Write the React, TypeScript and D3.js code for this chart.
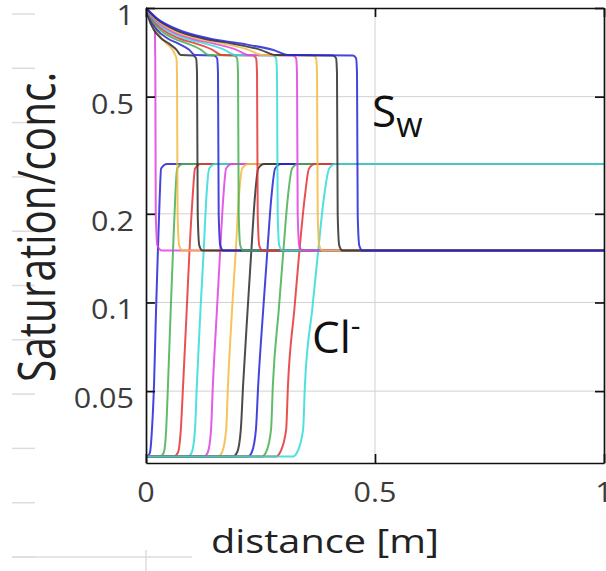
import React, { useEffect, useRef } from 'react';
import * as d3 from 'd3';

// line colour cycle (blue, green, red, cyan, magenta, yellow, black)
const palette = ['#2525d8', '#45b04f', '#e53232', '#30dada', '#e040e0', '#f4b940', '#2b2b2b'];

// Cl- concentration levels, shared by every time step
const clLevels = [0.03, 0.03, 0.031, 0.037, 0.0524, 0.095, 0.15, 0.23, 0.285, 0.295, 0.295];
// distance [m] at which each Cl- curve reaches the levels above
const clDistances = [
    [0, 0.003, 0.0087, 0.013, 0.0175, 0.022, 0.026, 0.030, 0.033, 0.046, 1],
    [0, 0.031, 0.039, 0.044, 0.048, 0.054, 0.059, 0.064, 0.068, 0.081, 1],
    [0, 0.061, 0.070, 0.076, 0.081, 0.089, 0.095, 0.102, 0.107, 0.120, 1],
    [0, 0.092, 0.100, 0.107, 0.111, 0.119, 0.126, 0.132, 0.138, 0.151, 1],
    [0, 0.127, 0.135, 0.142, 0.146, 0.155, 0.162, 0.169, 0.175, 0.188, 1],
    [0, 0.157, 0.166, 0.175, 0.179, 0.188, 0.196, 0.203, 0.210, 0.223, 1],
    [0, 0.190, 0.199, 0.207, 0.212, 0.222, 0.230, 0.238, 0.245, 0.258, 1],
    [0, 0.223, 0.231, 0.240, 0.245, 0.256, 0.265, 0.274, 0.282, 0.295, 1],
    [0, 0.253, 0.262, 0.273, 0.277, 0.290, 0.300, 0.310, 0.319, 0.332, 1],
    [0, 0.284, 0.293, 0.306, 0.310, 0.324, 0.335, 0.347, 0.356, 0.369, 1],
    [0, 0.321, 0.330, 0.343, 0.347, 0.363, 0.376, 0.389, 0.400, 0.413, 1],
];

// water saturation levels, shared by every time step
const swLevels = [1, 0.925, 0.845, 0.788, 0.757, 0.721, 0.692, 0.69, 0.675, 0.6, 0.2, 0.156, 0.15, 0.15];
// distance [m] at which each S_w curve reaches the levels above
const swDistances = [
    [0, 0.006, 0.0195, 0.0197, 0.0198, 0.0199, 0.0200, 0.0201, 0.0202, 0.0204, 0.0213, 0.025, 0.035, 1],
    [0, 0.007, 0.021, 0.034, 0.045, 0.058, 0.064, 0.0645, 0.0665, 0.0677, 0.069, 0.0725, 0.080, 1],
    [0, 0.0056, 0.0167, 0.0334, 0.0501, 0.0668, 0.0758, 0.1024, 0.1094, 0.1114, 0.1129, 0.1164, 0.1234, 1],
    [0, 0.0079, 0.0236, 0.0472, 0.0707, 0.0943, 0.1069, 0.1482, 0.1552, 0.1572, 0.1587, 0.1622, 0.1692, 1],
    [0, 0.0100, 0.0301, 0.0603, 0.0904, 0.1205, 0.1366, 0.1919, 0.1989, 0.2009, 0.2024, 0.2059, 0.2129, 1],
    [0, 0.0121, 0.0364, 0.0727, 0.1091, 0.1454, 0.1648, 0.2334, 0.2404, 0.2424, 0.2439, 0.2474, 0.2544, 1],
    [0, 0.0143, 0.0429, 0.0858, 0.1287, 0.1716, 0.1945, 0.2770, 0.2840, 0.2860, 0.2875, 0.2910, 0.2980, 1],
    [0, 0.0165, 0.0495, 0.0989, 0.1484, 0.1978, 0.2242, 0.3207, 0.3277, 0.3297, 0.3312, 0.3347, 0.3417, 1],
    [0, 0.0187, 0.0560, 0.1120, 0.1680, 0.2240, 0.2539, 0.3644, 0.3714, 0.3734, 0.3749, 0.3784, 0.3854, 1],
    [0, 0.0209, 0.0626, 0.1251, 0.1877, 0.2502, 0.2836, 0.4080, 0.4150, 0.4170, 0.4185, 0.4220, 0.4290, 1],
    [0, 0.0230, 0.0691, 0.1382, 0.2073, 0.2764, 0.3133, 0.4517, 0.4587, 0.4607, 0.4622, 0.4657, 0.4727, 1],
];

const yTicks = [0.05, 0.1, 0.2, 0.5, 1];
const yTickLabels = ['0.05', '0.1', '0.2', '0.5', '1'];
const xTicks = [0, 0.5, 1];
const xTickLabels = ['0', '0.5', '1'];

const W = 606;
const H = 571;
const margin = { top: 8, right: 2, bottom: 108, left: 146 };
const FONT = "'Open Sans', 'DejaVu Sans', sans-serif";

const App = () => {
    const ref = useRef<SVGSVGElement>(null);

    useEffect(() => {
        const svg = d3.select(ref.current);
        svg.selectAll('*').remove();

        const x = d3.scaleLinear().domain([0, 1]).range([margin.left, W - margin.right]);
        const y = d3.scaleLog().domain([0.0285, 1]).range([H - margin.bottom, margin.top]);

        // faint fragments of the neighbouring panel on the far left
        const ghost = svg.append('g').attr('stroke', '#dcdcdc').attr('stroke-width', 1.5);
        ghost.selectAll('line.frag')
            .data(d3.range(11))
            .join('line')
            .attr('class', 'frag')
            .attr('x1', 12).attr('x2', 35)
            .attr('y1', (d) => 14 + d * 54.3)
            .attr('y2', (d) => 14 + d * 54.3);
        ghost.append('line').attr('x1', 12).attr('x2', 192).attr('y1', 557).attr('y2', 557);
        ghost.append('line').attr('x1', x(0)).attr('x2', x(0)).attr('y1', 550).attr('y2', H);

        // grid
        const grid = svg.append('g').attr('stroke', '#d2d2d2').attr('stroke-width', 1);
        grid.selectAll('line.h')
            .data(yTicks.filter((d) => d < 1))
            .join('line')
            .attr('class', 'h')
            .attr('x1', x(0)).attr('x2', x(1))
            .attr('y1', (d) => y(d)).attr('y2', (d) => y(d));
        grid.selectAll('line.v')
            .data(xTicks.filter((d) => d > 0 && d < 1))
            .join('line')
            .attr('class', 'v')
            .attr('y1', y(1)).attr('y2', y(0.0285))
            .attr('x1', (d) => x(d)).attr('x2', (d) => x(d));

        svg.append('defs').append('clipPath').attr('id', 'plot-clip')
            .append('rect')
            .attr('x', x(0)).attr('y', margin.top - 3)
            .attr('width', x(1) - x(0)).attr('height', H - margin.bottom - margin.top + 3);

        const line = d3.line<[number, number]>()
            .x((d) => x(d[0]))
            .y((d) => y(d[1]))
            .curve(d3.curveMonotoneX);

        const curves = svg.append('g').attr('clip-path', 'url(#plot-clip)')
            .attr('fill', 'none').attr('stroke-width', 2).attr('stroke-opacity', 0.85)
            .attr('stroke-linejoin', 'round');

        // Cl- first, then S_w (colour cycle continues)
        const clData = clDistances.map((ds) => ds.map((d, i) => [d, clLevels[i]] as [number, number]));
        const swData = swDistances.map((ds) => ds.map((d, i) => [d, swLevels[i]] as [number, number]));

        curves.selectAll('path.cl')
            .data(clData)
            .join('path')
            .attr('class', 'cl')
            .attr('stroke', (d, i) => palette[i % 7])
            .attr('d', (d) => line(d));

        curves.selectAll('path.sw')
            .data(swData)
            .join('path')
            .attr('class', 'sw')
            .attr('stroke', (d, i) => palette[(i + clData.length) % 7])
            .attr('d', (d) => line(d));

        // frame with inward ticks on all four sides
        const frame = svg.append('g');
        frame.append('g').attr('transform', `translate(${x(0)},0)`)
            .call(d3.axisLeft(y).tickValues(yTicks).tickSize(-9).tickSizeOuter(0).tickFormat(() => ''));
        frame.append('g').attr('transform', `translate(${x(1)},0)`)
            .call(d3.axisRight(y).tickValues(yTicks).tickSize(-9).tickSizeOuter(0).tickFormat(() => ''));
        frame.append('g').attr('transform', `translate(0,${y(0.0285)})`)
            .call(d3.axisBottom(x).tickValues(xTicks).tickSize(-9).tickSizeOuter(0).tickFormat(() => ''));
        frame.append('g').attr('transform', `translate(0,${y(1)})`)
            .call(d3.axisTop(x).tickValues(xTicks).tickSize(-9).tickSizeOuter(0).tickFormat(() => ''));
        frame.selectAll('path, line').attr('stroke', '#111').attr('stroke-width', 1.7);

        // tick labels
        svg.append('g').selectAll('text')
            .data(yTicks)
            .join('text')
            .attr('transform', (d) => `translate(134,${y(d) + 17}) scale(1.13,1)`)
            .attr('text-anchor', 'end')
            .attr('font-family', FONT)
            .attr('font-size', 27)
            .attr('fill', '#3c3c3c')
            .text((d, i) => yTickLabels[i]);

        svg.append('g').selectAll('text')
            .data(xTicks)
            .join('text')
            .attr('transform', (d) => `translate(${x(d)},502) scale(1.13,1)`)
            .attr('text-anchor', 'middle')
            .attr('font-family', FONT)
            .attr('font-size', 27)
            .attr('fill', '#3c3c3c')
            .text((d, i) => xTickLabels[i]);

        // axis titles
        svg.append('text')
            .attr('x', 325).attr('y', 553)
            .attr('text-anchor', 'middle')
            .attr('font-family', FONT)
            .attr('font-size', 33)
            .attr('fill', '#222')
            .attr('textLength', 228)
            .attr('lengthAdjust', 'spacingAndGlyphs')
            .text('distance [m]');

        svg.append('text')
            .attr('transform', 'translate(55,227) scale(1.3,1) rotate(-90)')
            .attr('text-anchor', 'middle')
            .attr('font-family', FONT)
            .attr('font-size', 40)
            .attr('fill', '#222')
            .attr('textLength', 310)
            .attr('lengthAdjust', 'spacingAndGlyphs')
            .text('Saturation/conc.');

        // curve annotations
        const sw = svg.append('text')
            .attr('x', 372).attr('y', 127)
            .attr('font-family', FONT)
            .attr('fill', '#111');
        sw.append('tspan').attr('font-size', 44).text('S');
        sw.append('tspan').attr('font-size', 34).attr('dy', 10).text('w');

        const cl = svg.append('text')
            .attr('x', 312).attr('y', 353)
            .attr('font-family', FONT)
            .attr('fill', '#111');
        cl.append('tspan').attr('font-size', 44).text('Cl');
        cl.append('tspan').attr('font-size', 30).attr('dy', -17).text('-');
    }, []);

    return (
        <svg
            ref={ref}
            width={W}
            height={H}
            style={{ position: 'absolute', left: 0, top: 0, background: '#fff' }}
        />
    );
};

export default App;
